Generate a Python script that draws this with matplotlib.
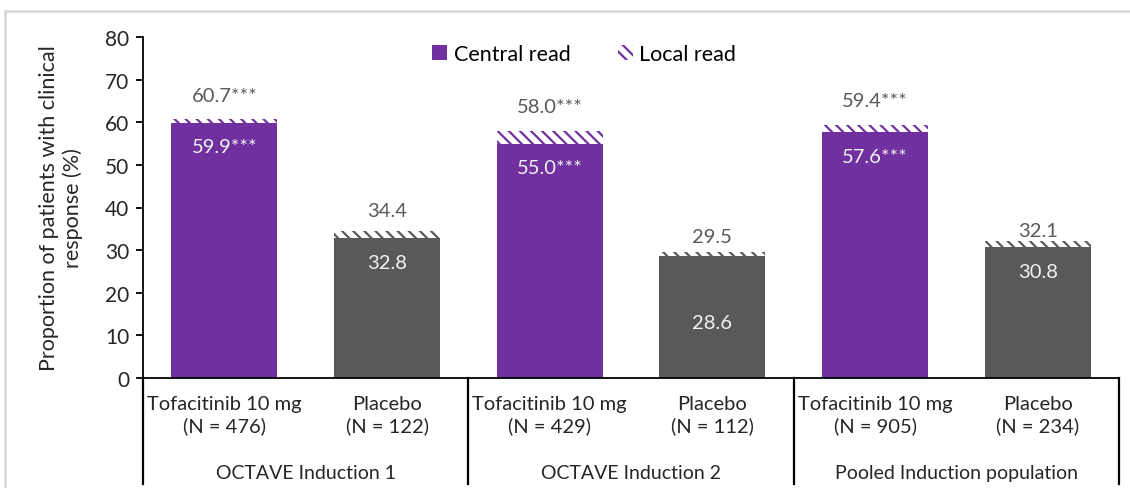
import matplotlib
matplotlib.use('Agg')
import matplotlib.pyplot as plt
from matplotlib.patches import Patch, Rectangle

plt.rcParams['font.family'] = ['Lato', 'DejaVu Sans']
plt.rcParams['hatch.linewidth'] = 1.6

# ---- data ----
treatments = ['Tofacitinib 10 mg', 'Placebo', 'Tofacitinib 10 mg', 'Placebo',
              'Tofacitinib 10 mg', 'Placebo']
n_patients = [476, 122, 429, 112, 905, 234]
groups = ['OCTAVE Induction 1', 'OCTAVE Induction 2', 'Pooled Induction population']
central_read = [59.9, 32.8, 55.0, 28.6, 57.6, 30.8]
local_read = [60.7, 34.4, 58.0, 29.5, 59.4, 32.1]
significance = ['***', '', '***', '', '***', '']

PURPLE = '#7030A0'
GREY = '#595959'
colors = [PURPLE, GREY] * 3

# label placement (layout only)
inner_y = [c - 5.7 for c in central_read]
inner_y[3] = 13.0
outer_off = [5.5, 5.0, 5.8, 3.8, 5.8, 2.4]

fig = plt.figure(figsize=(11.3, 4.89), dpi=100)
ax = fig.add_axes([143 / 1130, 1 - 379 / 489, (1119 - 143) / 1130, (379 - 38) / 489])

# light frame around the chart
fig.patches.append(Rectangle((5 / 1130, -0.1), 1.2, 1 - 12 / 489 + 0.1, transform=fig.transFigure,
                             fill=False, edgecolor='#d9d9d9', linewidth=2))

x = list(range(len(treatments)))
width = 0.65
ax.bar(x, central_read, width, color=colors, linewidth=0, zorder=2)
extra = [l - c for l, c in zip(local_read, central_read)]
ax.bar(x, extra, width, bottom=central_read, color='white', edgecolor=colors,
       hatch='\\\\\\', linewidth=0, zorder=2)

for i in x:
    ax.text(i, inner_y[i], f'{central_read[i]:.1f}{significance[i]}', ha='center', va='center',
            fontsize=14.5, color='#f2f2f2', zorder=3)
    ax.text(i, local_read[i] + outer_off[i], f'{local_read[i]:.1f}{significance[i]}', ha='center',
            va='center', fontsize=14.5, color=GREY, zorder=3)

ax.set_xlim(-0.5, 5.5)
ax.set_ylim(0, 80)
ax.set_yticks(range(0, 81, 10))
ax.tick_params(axis='y', direction='out', length=5, width=1.3, labelsize=15, colors='black',
               labelcolor='#262626', pad=5)
ax.set_xticks(x)
ax.set_xticklabels([f'{t}\n(N = {n})' for t, n in zip(treatments, n_patients)],
                   fontsize=14.5, color='#262626', linespacing=1.3)
ax.tick_params(axis='x', length=0, pad=12)

for s in ['top', 'right']:
    ax.spines[s].set_visible(False)
ax.spines['left'].set_linewidth(1.3)
ax.spines['bottom'].set_linewidth(1.3)

# group separators below the axis
trans = ax.get_xaxis_transform()
for xs in [-0.5, 1.5, 3.5, 5.5]:
    ax.plot([xs, xs], [0, -0.31], transform=trans, color='black', linewidth=1.6, clip_on=False)
for k, g in enumerate(groups):
    ax.text(2 * k + 0.5, -0.278, g, transform=trans, ha='center', va='center',
            fontsize=14, color='#262626')

ax.set_ylabel('Proportion of patients with clinical\nresponse (%)', fontsize=15.5,
              color='#262626', linespacing=1.2, labelpad=16)

handles = [Patch(facecolor=PURPLE, linewidth=0),
           Patch(facecolor='white', edgecolor=PURPLE, hatch='\\\\\\', linewidth=0)]
ax.legend(handles, ['Central read', 'Local read'], loc='upper center', bbox_to_anchor=(0.452, 1.035),
          ncol=2, frameon=False, fontsize=15.5, handlelength=0.7, handleheight=0.7,
          handletextpad=0.3, columnspacing=2.2)

fig.savefig('out.png', dpi=100)
